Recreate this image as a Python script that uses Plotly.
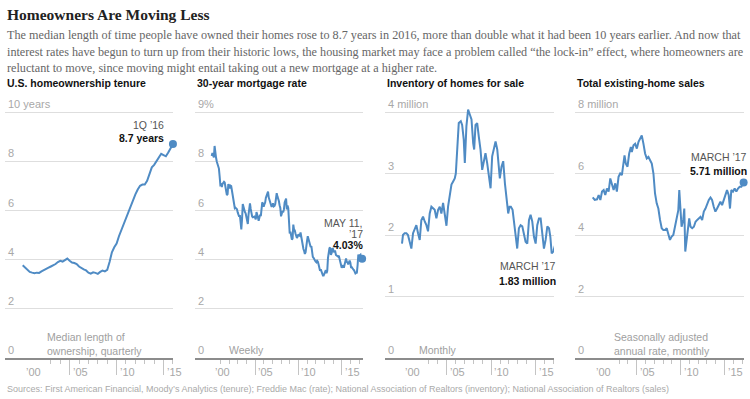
import plotly.graph_objects as go

# ---------------- DATA ----------------
# U.S. homeownership tenure, median years, quarterly 2000Q1 .. 2016Q1
tenure_start_year = 2000
tenure_values = [
    3.77, 3.68, 3.58, 3.50,
    3.47, 3.45, 3.47, 3.46,
    3.52, 3.58, 3.62, 3.67,
    3.72, 3.76, 3.82, 3.90,
    3.95, 3.92, 3.98, 4.04,
    3.95, 3.88, 3.86, 3.82,
    3.72, 3.65, 3.60, 3.56,
    3.47, 3.43, 3.48, 3.46,
    3.42, 3.50, 3.55, 3.52,
    3.58, 3.90, 4.30, 4.50,
    4.65, 4.95, 5.20, 5.45,
    5.65, 5.95, 6.20, 6.45,
    6.65, 6.85, 7.00, 7.05,
    7.05, 7.20, 7.45, 7.75,
    7.85, 8.00, 8.15, 8.30,
    8.25, 8.20, 8.35, 8.50,
    8.70,
]

# 30-year mortgage rate (%), monthly Jan 2000 .. May 2017
mortgage_start_year = 2000
mortgage_values = [
    8.21, 8.33, 8.24, 8.15, 8.62, 8.29, 8.15, 7.99, 7.90, 7.78, 7.70, 7.38,
    7.03, 7.05, 6.95, 7.08, 7.15, 7.16, 7.13, 6.95, 6.82, 6.62, 6.66, 7.07,
    7.00, 6.89, 7.01, 6.99, 6.81, 6.65, 6.49, 6.29, 6.09, 6.11, 6.07, 6.05,
    5.92, 5.84, 5.75, 5.81, 5.48, 5.23, 5.63, 6.26, 6.15, 5.95, 5.93, 5.88,
    5.71, 5.64, 5.45, 5.83, 6.27, 6.29, 6.06, 5.87, 5.75, 5.72, 5.73, 5.75,
    5.71, 5.63, 5.93, 5.86, 5.72, 5.58, 5.70, 5.82, 5.77, 6.07, 6.33, 6.27,
    6.15, 6.25, 6.32, 6.51, 6.60, 6.68, 6.76, 6.52, 6.40, 6.36, 6.24, 6.14,
    6.22, 6.29, 6.16, 6.18, 6.26, 6.66, 6.70, 6.57, 6.38, 6.38, 6.21, 6.10,
    5.76, 5.92, 5.97, 5.92, 6.04, 6.32, 6.43, 6.48, 6.04, 6.20, 6.09, 5.33,
    5.06, 5.13, 5.00, 4.81, 4.86, 5.42, 5.22, 5.19, 5.06, 4.95, 4.88, 4.93,
    5.03, 4.99, 4.97, 5.10, 4.89, 4.74, 4.56, 4.43, 4.35, 4.23, 4.30, 4.71,
    4.76, 4.95, 4.84, 4.84, 4.64, 4.51, 4.55, 4.27, 4.11, 4.07, 3.99, 3.96,
    3.92, 3.89, 3.95, 3.91, 3.80, 3.68, 3.55, 3.60, 3.50, 3.38, 3.35, 3.35,
    3.41, 3.53, 3.57, 3.45, 3.54, 4.07, 4.37, 4.46, 4.49, 4.19, 4.26, 4.46,
    4.43, 4.30, 4.34, 4.34, 4.19, 4.16, 4.13, 4.12, 4.16, 4.04, 4.00, 3.86,
    3.67, 3.71, 3.77, 3.67, 3.84, 3.98, 4.05, 3.91, 3.89, 3.80, 3.94, 3.96,
    3.87, 3.66, 3.69, 3.61, 3.60, 3.57, 3.44, 3.44, 3.46, 3.47, 3.77, 4.20,
    4.15, 4.17, 4.20, 4.05, 4.03,
]

# Inventory of homes for sale (millions)
inventory_dates = [
    2000.00, 2000.11, 2000.30, 2000.49, 2000.67, 2000.86, 2001.05, 2001.24, 2001.42, 2001.61,
    2001.80, 2001.99, 2002.17, 2002.36, 2002.55, 2002.74, 2002.92, 2003.11, 2003.30, 2003.49,
    2003.67, 2003.86, 2004.05, 2004.24, 2004.42, 2004.61, 2004.80, 2004.99, 2005.17, 2005.36,
    2005.55, 2005.74, 2005.92, 2006.04, 2006.22, 2006.37, 2006.60, 2006.75, 2006.93, 2007.05,
    2007.23, 2007.42, 2007.61, 2007.80, 2007.99, 2008.10, 2008.25, 2008.44, 2008.62, 2008.81,
    2009.00, 2009.19, 2009.37, 2009.56, 2009.75, 2009.94, 2010.12, 2010.31, 2010.50, 2010.69,
    2010.87, 2010.98, 2011.17, 2011.36, 2011.55, 2011.73, 2011.92, 2012.07, 2012.22, 2012.41,
    2012.60, 2012.78, 2012.93, 2013.12, 2013.31, 2013.50, 2013.68, 2013.87, 2014.06, 2014.25,
    2014.43, 2014.62, 2014.81, 2015.00, 2015.18, 2015.37, 2015.56, 2015.75, 2015.93, 2016.12,
    2016.31, 2016.50, 2016.65, 2016.80, 2016.98, 2017.17,
]
inventory_values = [
    1.86, 2.00, 2.03, 2.03, 2.00, 1.89, 1.78, 2.03, 2.11, 2.16,
    2.03, 1.92, 2.24, 2.30, 2.22, 2.16, 2.06, 2.35, 2.46, 2.43,
    2.41, 2.27, 2.41, 2.46, 2.35, 2.52, 2.35, 2.15, 2.46, 2.68,
    2.82, 2.87, 2.92, 3.00, 3.39, 3.82, 3.85, 3.79, 3.55, 3.17,
    3.77, 4.04, 3.96, 3.88, 3.49, 3.39, 3.79, 3.82, 3.60, 3.39,
    3.06, 3.22, 3.33, 3.17, 2.95, 2.76, 3.28, 3.41, 3.52, 3.39,
    2.98, 2.92, 3.11, 3.20, 2.84, 2.63, 2.35, 2.46, 2.46, 2.41,
    2.19, 1.92, 1.78, 2.11, 2.16, 2.14, 2.03, 1.89, 1.86, 2.24,
    2.33, 2.22, 1.97, 1.86, 2.16, 2.27, 2.27, 2.03, 1.78, 1.92,
    2.14, 2.11, 1.97, 1.70, 1.73, 1.83,
]

# Total existing-home sales (millions, SAAR)
sales_dates = [
    2000.00, 2000.23, 2000.49, 2000.68, 2000.87, 2001.06, 2001.25, 2001.43, 2001.62, 2001.81,
    2002.00, 2002.19, 2002.38, 2002.57, 2002.75, 2002.94, 2003.13, 2003.32, 2003.51, 2003.62,
    2003.77, 2003.96, 2004.15, 2004.34, 2004.45, 2004.64, 2004.83, 2005.02, 2005.21, 2005.40,
    2005.58, 2005.77, 2005.96, 2006.15, 2006.34, 2006.53, 2006.72, 2006.91, 2007.09, 2007.28,
    2007.47, 2007.66, 2007.85, 2008.04, 2008.23, 2008.42, 2008.60, 2008.79, 2008.98, 2009.17,
    2009.36, 2009.55, 2009.74, 2009.85, 2010.00, 2010.11, 2010.30, 2010.42, 2010.53, 2010.68,
    2010.87, 2010.98, 2011.13, 2011.32, 2011.51, 2011.70, 2011.89, 2012.08, 2012.26, 2012.45,
    2012.64, 2012.83, 2013.02, 2013.21, 2013.40, 2013.58, 2013.77, 2013.96, 2014.15, 2014.34,
    2014.53, 2014.72, 2014.91, 2015.09, 2015.28, 2015.47, 2015.62, 2015.77, 2015.96, 2016.15,
    2016.34, 2016.53, 2016.72, 2016.91, 2017.17,
]
sales_values = [
    5.22, 5.14, 5.16, 5.30, 5.14, 5.41, 5.46, 5.30, 5.51, 5.41,
    5.84, 5.62, 5.46, 5.68, 5.41, 5.89, 6.00, 5.95, 6.27, 6.59,
    6.32, 6.22, 6.65, 6.86, 6.70, 6.92, 6.97, 6.81, 7.03, 7.14,
    7.24, 6.97, 6.65, 6.49, 6.54, 6.43, 6.32, 6.00, 5.35, 5.03,
    4.86, 4.49, 4.22, 4.16, 4.16, 4.22, 4.05, 3.84, 3.95, 4.00,
    4.27, 4.59, 4.81, 5.46, 4.59, 4.27, 4.49, 4.86, 3.46, 3.84,
    4.27, 4.54, 4.27, 4.22, 4.27, 4.43, 4.49, 4.54, 4.59, 4.49,
    4.76, 4.86, 5.03, 5.14, 5.22, 5.14, 4.92, 4.76, 4.86, 4.97,
    5.08, 4.97, 5.14, 5.30, 5.46, 5.30, 4.86, 5.46, 5.41, 5.51,
    5.41, 5.51, 5.57, 5.57, 5.71,
]

year_ticks = [2000, 2005, 2010, 2015]
year_tick_labels = ["\u201900", "\u201905", "\u201910", "\u201915"]

panel_titles = ["U.S. homeownership tenure", "30-year mortgage rate",
                "Inventory of homes for sale", "Total existing-home sales"]
panel_notes = ["Median length of<br>ownership, quarterly", "Weekly", "Monthly",
               "Seasonally adjusted<br>annual rate, monthly"]
y_tickvals = [[0, 2, 4, 6, 8, 10], [0, 2, 4, 6, 8, 10], [0, 1, 2, 3, 4], [0, 2, 4, 6, 8]]
y_ticktext = [["0", "2", "4", "6", "8", "10 years"], ["0", "2", "4", "6", "8", "9%"],
              ["0", "1", "2", "3", "4 million"], ["0", "2", "4", "6", "8 million"]]

title_text = "Homeowners Are Moving Less"
subtitle_lines = [
    "The median length of time people have owned their homes rose to 8.7 years in 2016, more than double what it had been 10 years earlier. And now that",
    "interest rates have begun to turn up from their historic lows, the housing market may face a problem called \u201cthe lock-in\u201d effect, where homeowners are",
    "reluctant to move, since moving might entail taking out a new mortgage at a higher rate.",
]
source_text = ("Sources: First American Financial, Moody\u2019s Analytics (tenure); Freddie Mac (rate); "
               "National Association of Realtors (inventory); National Association of Realtors (sales)")

# ---------------- LAYOUT HELPERS ----------------
W, H = 750, 399
LINE = "#4f8bc4"
GRID = "#dedede"
TICKC = "#a8a8a8"
SANS = "Liberation Sans, Arial, sans-serif"
SERIF = "Liberation Serif, Times New Roman, serif"

def fx(p):
    return p / W

def fy(p):
    return 1 - p / H

tenure_x = [tenure_start_year + 0.25 * i for i in range(len(tenure_values))]
mortgage_x = [mortgage_start_year + i / 12 for i in range(len(mortgage_values))]
mortgage_x[-1] = 2017 + 130 / 365  # May 11, 2017

series = [
    (tenure_x, tenure_values),
    (mortgage_x, mortgage_values),
    (inventory_dates, inventory_values),
    (sales_dates, sales_values),
]

# pixel geometry of each panel: left, right, year-2000 pixel, px per year, top value
panels = [
    dict(left=5, right=173, x2000=22.7, ppy=9.39, ytop=10),
    dict(left=195, right=363, x2000=211.7, ppy=8.667, ytop=10),
    dict(left=385, right=554, x2000=402.0, ppy=8.91, ytop=4),
    dict(left=575, right=744, x2000=592.7, ppy=8.79, ytop=8),
]
Y0, YTOP, HEAD = 358, 112, 16

fig = go.Figure()
layout = dict(
    width=W, height=H, margin=dict(l=0, r=0, t=0, b=0),
    paper_bgcolor="white", plot_bgcolor="white", showlegend=False,
)
annotations = []
shapes = []

for i, (p, (xs, ys)) in enumerate(zip(panels, series)):
    n = "" if i == 0 else str(i + 1)
    xr = [2000 + (p["left"] - p["x2000"]) / p["ppy"], 2000 + (p["right"] - p["x2000"]) / p["ppy"]]
    ppu = (Y0 - YTOP) / p["ytop"]
    ymax = p["ytop"] + HEAD / ppu
    fig.add_trace(go.Scatter(x=xs, y=ys, mode="lines", line=dict(color=LINE, width=2),
                             xaxis="x" + n, yaxis="y" + n, cliponaxis=False, hoverinfo="skip"))
    fig.add_trace(go.Scatter(x=[xs[-1]], y=[ys[-1]], mode="markers",
                             marker=dict(color=LINE, size=8), xaxis="x" + n, yaxis="y" + n,
                             cliponaxis=False, hoverinfo="skip"))
    layout["xaxis" + n] = dict(
        domain=[fx(p["left"]), fx(p["right"])], range=xr, anchor="y" + n,
        showgrid=False, zeroline=False, showline=True, linecolor="#8c8c8c", linewidth=2,
        tickmode="array", tickvals=year_ticks, showticklabels=False,
        ticks="outside", ticklen=15, tickcolor="#c4c4c4", tickwidth=1,
        minor=dict(tickvals=[y for y in range(2001, 2018) if y % 5 != 0],
                   ticks="outside", ticklen=4, tickcolor="#c4c4c4", tickwidth=1),
        fixedrange=True,
    )
    layout["yaxis" + n] = dict(
        domain=[fy(Y0), fy(YTOP - HEAD)], range=[0, ymax], anchor="x" + n,
        showgrid=True, gridcolor=GRID, gridwidth=1, zeroline=False, showline=False,
        tickmode="array", tickvals=y_tickvals[i], ticktext=y_ticktext[i],
        ticks="", ticklabelposition="inside top",
        tickfont=dict(family=SANS, size=11, color=TICKC), fixedrange=True,
    )
    # year labels, placed just right of each major tick
    for tv, tt in zip(year_ticks, year_tick_labels):
        annotations.append(dict(text=tt, x=tv, xref="x" + n, y=fy(372), yref="paper",
                                xanchor="left", yanchor="middle", xshift=1, showarrow=False,
                                font=dict(family=SANS, size=11, color=TICKC)))
    annotations.append(dict(text="<b>" + panel_titles[i] + "</b>", x=fx(p["left"]), y=fy(83),
                            xref="paper", yref="paper", xanchor="left", yanchor="middle",
                            showarrow=False, font=dict(family=SANS, size=10.5, color="#111")))

# panel notes
note_pos = [(45, 344), (227, 350), (417, 350), (612, 344)]
for (nx, ny), txt in zip(note_pos, panel_notes):
    annotations.append(dict(text=txt, x=fx(nx), y=fy(ny), xref="paper", yref="paper",
                            xanchor="left", yanchor="middle", align="left", showarrow=False,
                            font=dict(family=SANS, size=10.5, color="#a0a0a0")))

# value callouts
callouts = [
    (166, 125, 138, ["1Q \u201916"], "8.7 years"),
    (365, 223, 245, ["MAY 11,", "\u201917"], "4.03%"),
    (558, 266, 281, ["MARCH \u201917"], "1.83 million"),
    (749, 157, 171, ["MARCH \u201917"], "5.71 million"),
]
for cx, ly, by, lines, bold in callouts:
    for k, ln in enumerate(lines):
        annotations.append(dict(text=ln, x=fx(cx), y=fy(ly + 11 * k), xref="paper", yref="paper",
                                xanchor="right", yanchor="middle", showarrow=False,
                                font=dict(family=SANS, size=10.5, color="#555")))
    annotations.append(dict(text="<b>" + bold + "</b>", x=fx(cx), y=fy(by), xref="paper", yref="paper",
                            xanchor="right", yanchor="middle", showarrow=False,
                            font=dict(family=SANS, size=10.5, color="#111")))

# gap in the 6-million gridline behind the sales callout
shapes.append(dict(type="rect", xref="x4", yref="y4", x0=2010.0, x1=2017.3, y0=5.9, y1=6.1,
                   fillcolor="white", line=dict(width=0), layer="between"))

# heading texts
annotations.append(dict(text="<b>" + title_text + "</b>", x=fx(5), y=fy(14), xref="paper", yref="paper",
                        xanchor="left", yanchor="middle", showarrow=False,
                        font=dict(family=SERIF, size=15.5, color="#222")))
for k, ln in enumerate(subtitle_lines):
    annotations.append(dict(text=ln, x=fx(5), y=fy(35 + 16.5 * k), xref="paper", yref="paper",
                            xanchor="left", yanchor="middle", showarrow=False,
                            font=dict(family=SERIF, size=12.2, color="#666")))
annotations.append(dict(text=source_text, x=fx(5), y=fy(389), xref="paper", yref="paper",
                        xanchor="left", yanchor="middle", showarrow=False,
                        font=dict(family=SANS, size=9, color="#aaa")))

layout["annotations"] = annotations
layout["shapes"] = shapes
fig.update_layout(**layout)
fig.write_html("out.html", config={"displayModeBar": False},
               post_script="document.body.style.margin='0';document.body.style.overflow='hidden';")
